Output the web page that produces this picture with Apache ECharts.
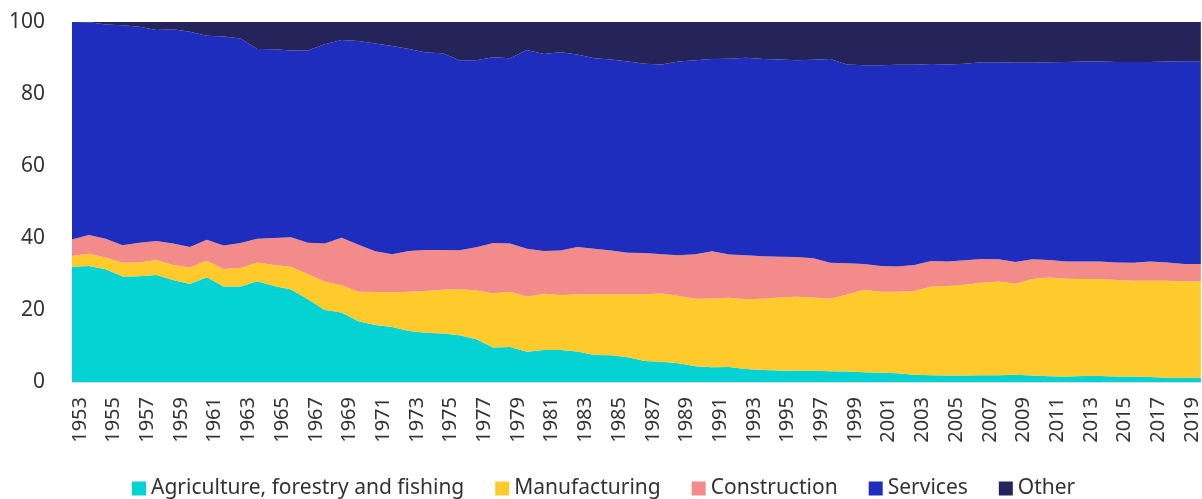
<!DOCTYPE html>
<html>
<head>
<meta charset="utf-8">
<script src="https://cdn.jsdelivr.net/npm/echarts@6.0.0/dist/echarts.min.js"></script>
<style>
	html, body { margin: 0; padding: 0; background: #fff; }
	#chart { width: 1202px; height: 499px; }
</style>
</head>
<body>
<div id="chart"></div>
<script>
// share of employment by sector, %
var years = [];
for (var y = 1953; y <= 2020; y++) { years.push(String(y)); }

var agriculture = [32.0,32.2,31.3,29.3,29.4,29.7,28.3,27.2,29.1,26.5,26.5,28.0,26.7,25.7,23.0,20.0,19.3,
	16.9,15.8,15.3,14.2,13.7,13.5,13.0,11.9,9.6,9.7,8.4,8.9,8.9,8.5,7.5,7.4,6.9,
	5.8,5.6,5.2,4.4,4.1,4.2,3.6,3.3,3.2,3.1,3.1,3.0,2.9,2.7,2.6,2.4,2.0,
	1.9,1.8,1.8,1.9,1.9,2.0,1.8,1.6,1.5,1.7,1.7,1.5,1.5,1.4,1.2,1.2,1.2];
var manufacturing = [3.0,3.4,3.3,3.8,3.8,4.2,4.2,4.6,4.6,4.9,5.2,5.2,5.8,6.3,6.9,7.9,7.6,
	8.2,9.2,9.6,10.9,11.6,12.1,12.8,13.5,15.0,15.4,15.3,15.6,15.3,15.8,16.9,17.0,17.5,
	18.6,19.0,18.7,18.7,19.1,19.2,19.4,19.8,20.3,20.6,20.4,20.1,21.4,22.9,22.5,22.7,23.3,
	24.6,24.9,25.2,25.7,26.0,25.3,26.8,27.4,27.2,26.9,26.9,26.8,26.6,26.7,26.9,26.8,26.7];
var construction = [4.6,5.2,5.2,4.9,5.5,5.3,6.0,5.7,5.8,6.5,6.9,6.6,7.5,8.2,8.8,10.6,13.2,
	13.0,11.3,10.6,11.3,11.4,11.1,10.8,12.0,14.0,13.4,13.3,11.9,12.3,13.2,12.6,12.1,11.5,
	11.4,10.9,11.3,12.4,13.1,12.0,12.2,11.8,11.3,11.0,10.9,10.0,8.7,7.2,7.1,7.0,7.2,
	7.1,6.8,6.8,6.6,6.2,6.0,5.5,4.9,4.8,4.9,4.9,4.9,5.0,5.4,5.1,4.8,4.9];
var services = [60.4,59.1,59.5,61.1,60.0,58.6,59.5,59.8,56.7,58.1,56.8,52.7,52.4,51.9,53.4,55.3,54.9,
	56.6,57.7,57.8,56.1,54.8,54.6,52.8,52.0,51.6,51.4,55.2,54.7,55.1,53.5,52.9,53.1,53.1,
	52.6,52.7,53.8,53.9,53.4,54.4,54.9,54.8,54.8,54.7,55.1,56.6,55.2,55.2,55.8,56.0,55.6,
	54.7,54.7,54.6,54.6,54.7,55.4,54.6,54.9,55.4,55.5,55.5,55.7,55.8,55.4,55.8,56.3,56.3];
var other = [0.0,0.1,0.7,0.9,1.3,2.2,2.0,2.7,3.8,4.0,4.6,7.5,7.6,7.9,7.9,6.2,5.0,
	5.3,6.0,6.7,7.5,8.5,8.7,10.6,10.6,9.8,10.1,7.8,8.9,8.4,9.0,10.1,10.4,11.0,
	11.6,11.8,11.0,10.6,10.3,10.2,9.9,10.3,10.4,10.6,10.5,10.3,11.8,12.0,12.0,11.9,11.9,
	11.7,11.8,11.6,11.2,11.2,11.3,11.3,11.2,11.1,11.0,11.0,11.1,11.1,11.1,11.0,10.9,10.9];

var seriesNames = ['Agriculture, forestry and fishing', 'Manufacturing', 'Construction', 'Services', 'Other'];
var seriesData = [agriculture, manufacturing, construction, services, other];
var colors = ['#05d2d2', '#ffca2c', '#f48b8b', '#1e2dbe', '#25245a'];

var myChart = echarts.init(document.getElementById('chart'));

var series = [];
for (var i = 0; i < seriesNames.length; i++) {
	series.push({
		name: seriesNames[i],
		type: 'line',
		stack: 'total',
		data: seriesData[i],
		symbol: 'none',
		lineStyle: { width: 0 },
		areaStyle: { color: colors[i], opacity: 1 },
		itemStyle: { color: colors[i] }
	});
}

var option = {
	animation: false,
	textStyle: { fontFamily: 'Noto Sans' },
	grid: { left: 72, right: 0, top: 22, bottom: 117 },
	legend: {
		data: seriesNames,
		top: 473,
		left: 127,
		icon: 'rect',
		itemWidth: 14,
		itemHeight: 14,
		itemGap: 31,
		textStyle: { fontSize: 21, color: '#333', fontFamily: 'Noto Sans' }
	},
	xAxis: {
		type: 'category',
		data: years,
		boundaryGap: false,
		axisLine: { lineStyle: { color: '#d9d9d9' } },
		axisTick: { show: false },
		axisLabel: {
			interval: 1,
			rotate: 90,
			margin: 15,
			verticalAlign: 'top',
			lineHeight: 16,
			fontSize: 20,
			color: '#333',
			fontFamily: 'Noto Sans'
		}
	},
	yAxis: {
		type: 'value',
		min: 0,
		max: 100,
		interval: 20,
		splitLine: { show: false },
		axisLine: { show: false },
		axisTick: { show: false },
		axisLabel: { fontSize: 21, color: '#333', margin: 27, fontFamily: 'Noto Sans' }
	},
	series: series
};

myChart.setOption(option);
</script>
</body>
</html>
